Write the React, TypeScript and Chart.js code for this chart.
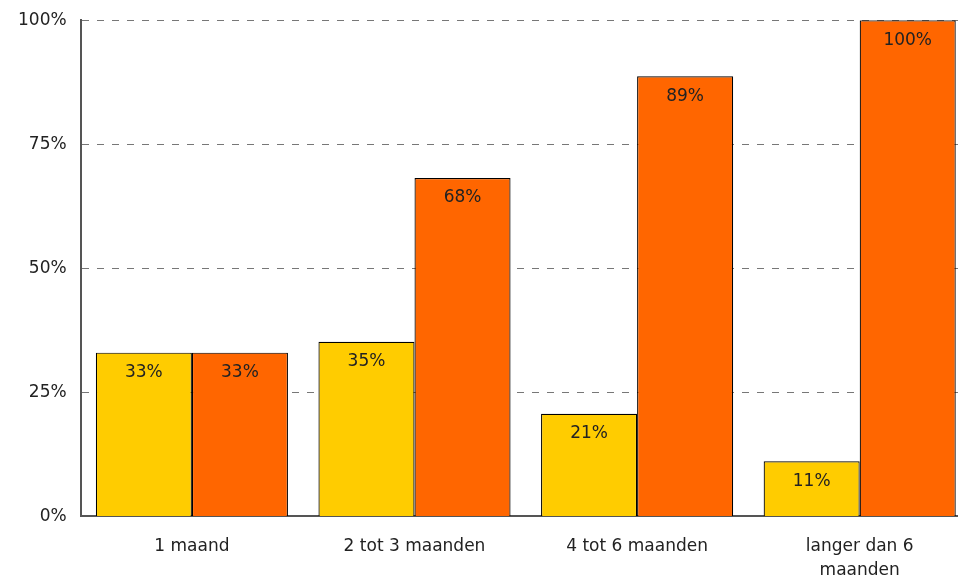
import React, { useEffect, useRef } from "react";
import { Chart, registerables } from "chart.js";

Chart.register(...registerables);

const categories: (string | string[])[] = ["1 maand", "2 tot 3 maanden", "4 tot 6 maanden", ["langer dan 6", "maanden"]];
const seriesA = [33, 35.2, 20.7, 11.1];
const seriesB = [33, 68.2, 88.7, 100];
const yTicks = [0, 25, 50, 75, 100];

const FONT = "'DejaVu Sans', Verdana, sans-serif";

const labelPlugin = {
  id: "barLabels",
  afterDatasetsDraw(chart: any) {
    const ctx = chart.ctx;
    ctx.save();
    ctx.font = `17px ${FONT}`;
    ctx.fillStyle = "#222";
    ctx.textAlign = "center";
    ctx.textBaseline = "middle";
    chart.data.datasets.forEach((ds: any, di: number) => {
      const meta = chart.getDatasetMeta(di);
      meta.data.forEach((bar: any, i: number) => {
        const v = ds.data[i];
        ctx.fillText(Math.round(v) + "%", bar.x, bar.y + 20);
      });
    });
    ctx.restore();
  },
};

export default function App() {
  const ref = useRef<HTMLCanvasElement>(null);
  useEffect(() => {
    document.body.style.margin = "0";
    const chart = new Chart(ref.current!, {
      type: "bar",
      data: {
        labels: categories as any,
        datasets: [
          { data: seriesA, backgroundColor: "#FFCC00", borderColor: "#000", borderWidth: 1.2, categoryPercentage: 0.863, barPercentage: 1 },
          { data: seriesB, backgroundColor: "#FF6600", borderColor: "#000", borderWidth: 1.2, categoryPercentage: 0.863, barPercentage: 1 },
        ],
      },
      options: {
        animation: false,
        responsive: false,
        layout: { padding: { top: 0, right: 1, left: 4, bottom: 0 } },
        plugins: { legend: { display: false }, tooltip: { enabled: false } },
        scales: {
          x: {
            grid: { display: false, drawTicks: false },
            border: { color: "#555", width: 2 },
            ticks: { color: "#222", font: { family: FONT, size: 17, lineHeight: 1.4 }, padding: 18, maxRotation: 0 },
          },
          y: {
            min: 0,
            max: 100,
            afterBuildTicks: (axis: any) => { axis.ticks = yTicks.map((v) => ({ value: v })); },
            grid: { color: "#777", lineWidth: 1, drawTicks: false },
            border: { color: "#555", width: 2, dash: [7, 8] },
            ticks: { color: "#222", font: { family: FONT, size: 17 }, padding: 14, callback: (v: any) => v + "%" },
          },
        },
      },
      plugins: [labelPlugin],
    });
    return () => chart.destroy();
  }, []);
  return (
    <div style={{ position: "relative", width: 958, height: 579, overflow: "hidden" }}>
      <canvas ref={ref} width={972} height={604} style={{ position: "absolute", left: 0, top: -4 }} />
    </div>
  );
}
